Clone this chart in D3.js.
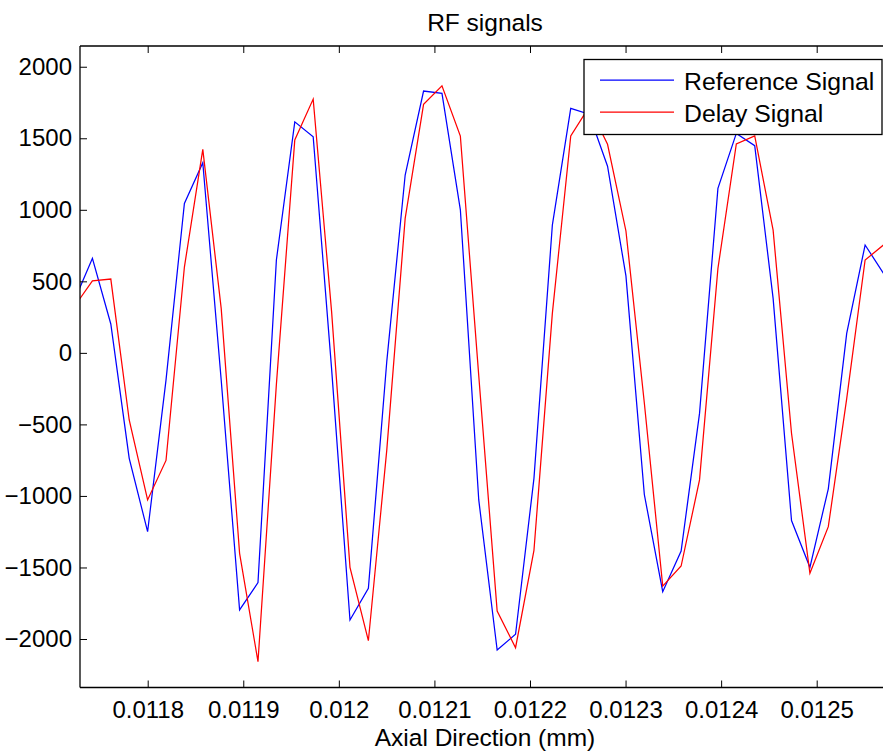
<!DOCTYPE html>
<html>
<head>
<meta charset="utf-8">
<script src="https://cdn.jsdelivr.net/npm/d3@7"></script>
<style>
  html, body { margin: 0; padding: 0; background: #fff; }
  svg { display: block; }
  text { font-family: "Liberation Sans", Arial, sans-serif; fill: #000; }
</style>
</head>
<body>
<div id="chart"></div>
<script>
// Axial sample positions (as labelled on the axis)
const depth = [
  0.01172290, 0.01174215, 0.01176140, 0.01178065, 0.01179990, 0.01181915,
  0.01183840, 0.01185765, 0.01187690, 0.01189615, 0.01191540, 0.01193465,
  0.01195390, 0.01197315, 0.01199240, 0.01201165, 0.01203090, 0.01205015,
  0.01206940, 0.01208865, 0.01210790, 0.01212715, 0.01214640, 0.01216565,
  0.01218490, 0.01220415, 0.01222340, 0.01224265, 0.01226190, 0.01228115,
  0.01230040, 0.01231965, 0.01233890, 0.01235815, 0.01237740, 0.01239665,
  0.01241590, 0.01243515, 0.01245440, 0.01247365, 0.01249290, 0.01251215,
  0.01253140, 0.01255065, 0.01256990
];

// Reference RF line
const referenceSignal = [
  360, 661, 202, -737, -1250, -190, 1045, 1329, -190, -1797,
  -1606, 649, 1615, 1511, -110, -1867, -1646, -60, 1243, 1830,
  1814, 1000, -1028, -2077, -1967, -877, 893, 1709, 1668, 1305,
  538, -990, -1669, -1385, -423, 1150, 1534, 1448, 381, -1172,
  -1499, -950, 136, 754, 556
];

// Delayed RF line
const delaySignal = [
  320, 504, 516, -469, -1028, -752, 600, 1422, 311, -1401,
  -2158, -220, 1488, 1774, 290, -1499, -2012, -680, 940, 1737,
  1867, 1515, -160, -1804, -2061, -1380, 276, 1516, 1720, 1458,
  852, -350, -1630, -1490, -888, 590, 1460, 1516, 858, -562,
  -1541, -1215, -320, 649, 754
];

const xTicks = [0.0118, 0.0119, 0.0120, 0.0121, 0.0122, 0.0123, 0.0124, 0.0125];
const xTickLabels = ["0.0118", "0.0119", "0.012", "0.0121", "0.0122", "0.0123", "0.0124", "0.0125"];
const yTicks = [-2000, -1500, -1000, -500, 0, 500, 1000, 1500, 2000];

const seriesNames = ["Reference Signal", "Delay Signal"];
const seriesColors = ["#0000ff", "#ff0000"];

const W = 883, H = 755;
const plot = { left: 80, top: 46, right: 890, bottom: 687.5 };

const svg = d3.select("#chart").append("svg")
  .attr("width", W).attr("height", H);

const x = d3.scaleLinear()
  .domain([0.01172916, 0.0125767])
  .range([plot.left, plot.right]);
const y = d3.scaleLinear()
  .domain([-2339, 2145])
  .range([plot.bottom, plot.top]);

svg.append("defs").append("clipPath").attr("id", "plotClip")
  .append("rect")
  .attr("x", plot.left).attr("y", plot.top)
  .attr("width", plot.right - plot.left)
  .attr("height", plot.bottom - plot.top);

// Signal traces
const line = d3.line()
  .x(d => x(d[0]))
  .y(d => y(d[1]));

const series = [referenceSignal, delaySignal];
const g = svg.append("g").attr("clip-path", "url(#plotClip)");
series.forEach((vals, k) => {
  g.append("path")
    .datum(vals.map((v, i) => [depth[i], v]))
    .attr("fill", "none")
    .attr("stroke", seriesColors[k])
    .attr("stroke-width", 1.25)
    .attr("stroke-linejoin", "miter")
    .attr("d", line);
});

// Axes with inward ticks on all four sides
const tickLen = 7;
const fmtY = v => (v < 0 ? "\u2212" + Math.abs(v) : String(v));

const axBottom = d3.axisBottom(x).tickValues(xTicks)
  .tickSize(-tickLen).tickPadding(14)
  .tickFormat((d, i) => xTickLabels[i]);
const axTop = d3.axisTop(x).tickValues(xTicks)
  .tickSize(-tickLen).tickFormat("");
const axLeft = d3.axisLeft(y).tickValues(yTicks)
  .tickSize(-tickLen).tickPadding(8).tickFormat(fmtY);
const axRight = d3.axisRight(y).tickValues(yTicks)
  .tickSize(-tickLen).tickFormat("");

function styleAxis(sel) {
  sel.select(".domain").attr("stroke", "#000").attr("stroke-width", 1.3);
  sel.selectAll(".tick line").attr("stroke", "#000").attr("stroke-width", 1);
  sel.selectAll(".tick text")
    .attr("font-family", "Liberation Sans, Arial, sans-serif")
    .attr("font-size", 24).attr("fill", "#000");
}

svg.append("g").attr("transform", `translate(0,${plot.bottom})`)
  .call(axBottom).call(styleAxis)
  .call(s => s.select(".domain").attr("d", `M${plot.left},0H${plot.right}`))
  .selectAll(".tick text").attr("dy", "0.71em").attr("y", 13);
svg.append("g").attr("transform", `translate(0,${plot.top})`)
  .call(axTop).call(styleAxis)
  .call(s => s.select(".domain").attr("d", `M${plot.left},0H${plot.right}`));
svg.append("g").attr("transform", `translate(${plot.left},0)`)
  .call(axLeft).call(styleAxis)
  .call(s => s.select(".domain").attr("d", `M0,${plot.top}V${plot.bottom}`));
svg.append("g").attr("transform", `translate(${plot.right},0)`)
  .call(axRight).call(styleAxis)
  .call(s => s.select(".domain").attr("d", `M0,${plot.top}V${plot.bottom}`));

// Title and axis label
const cx = (plot.left + plot.right) / 2;
svg.append("text").attr("x", cx).attr("y", 31)
  .attr("text-anchor", "middle").attr("font-size", 24.5)
  .text("RF signals");
svg.append("text").attr("x", cx).attr("y", 746)
  .attr("text-anchor", "middle").attr("font-size", 24.5)
  .text("Axial Direction (mm)");

// Legend
const legend = svg.append("g");
legend.append("rect")
  .attr("x", 584).attr("y", 59.5)
  .attr("width", 298).attr("height", 75)
  .attr("fill", "#fff").attr("stroke", "#000").attr("stroke-width", 1.3);
seriesNames.forEach((name, k) => {
  const ly = 80 + k * 32;
  legend.append("line")
    .attr("x1", 600).attr("x2", 674)
    .attr("y1", ly).attr("y2", ly)
    .attr("stroke", seriesColors[k]).attr("stroke-width", 1.25);
  legend.append("text")
    .attr("x", 684).attr("y", ly + 9.5)
    .attr("font-size", 24.8)
    .text(name);
});
</script>
</body>
</html>
